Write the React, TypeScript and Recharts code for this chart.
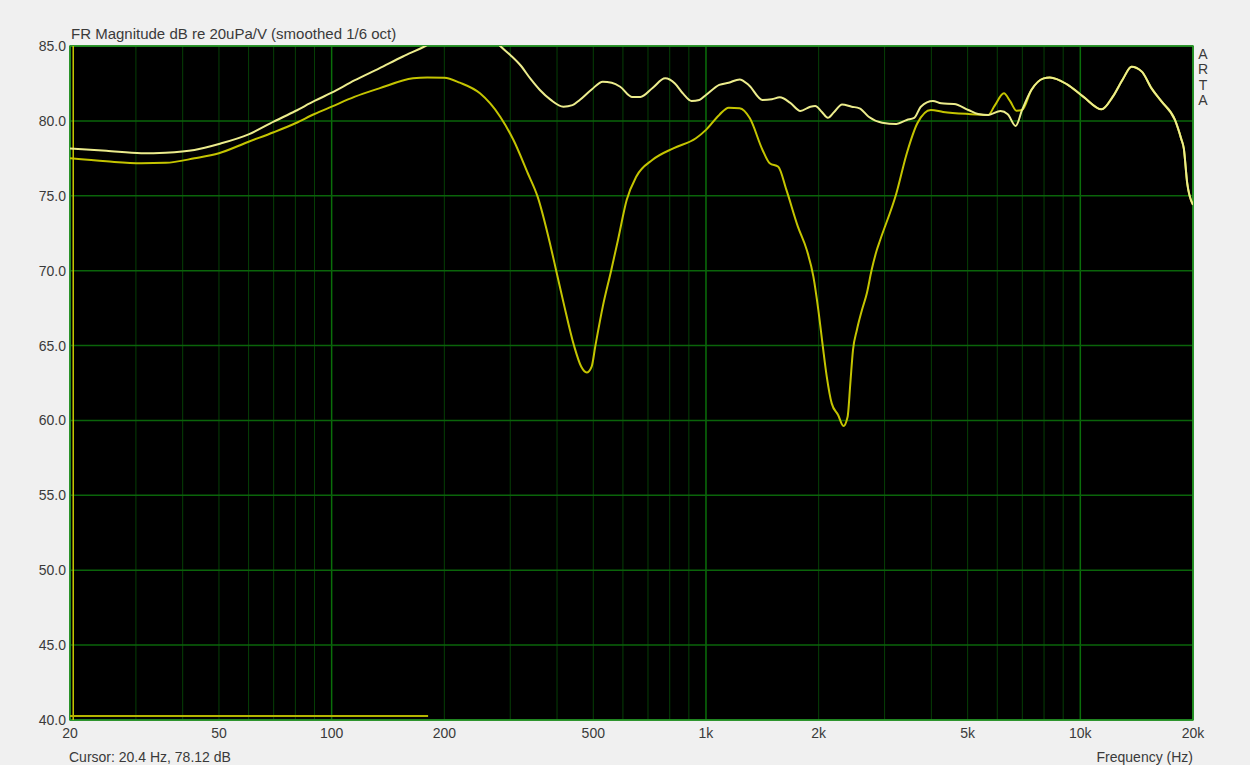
import React from "react";
import {
  ComposedChart,
  Line,
  XAxis,
  YAxis,
  CartesianGrid,
  ReferenceLine,
  ReferenceArea,
} from "recharts";

// curve A (brighter trace)
const freqA = [
  20, 25, 31, 36, 43, 50, 60, 70, 80, 90, 100, 115, 134, 155, 178, 200, 225,
  250, 270, 282, 300, 319, 340, 360, 385, 416, 440, 460, 495, 530, 560, 590,
  634, 668, 720, 778, 826, 870, 915, 960, 1000, 1085, 1150, 1230, 1300, 1416,
  1500, 1575, 1680, 1787, 1900, 1958, 2040, 2116, 2200, 2310, 2450, 2572,
  2720, 2955, 3226, 3440, 3600, 3750, 4040, 4250, 4600, 5020, 5330, 5680,
  6120, 6400, 6720, 6990,
];
const dbA = [
  78.15, 78.0, 77.84, 77.88, 78.06, 78.46, 79.1, 79.95, 80.66, 81.33, 81.88,
  82.7, 83.51, 84.3, 85.0, 85.7, 86.1, 86.0, 85.5, 85.0, 84.4, 83.73, 82.8,
  82.06, 81.4, 80.95, 81.05, 81.4, 82.1, 82.62, 82.55, 82.28, 81.6, 81.6,
  82.2, 82.84, 82.5, 81.8, 81.33, 81.4, 81.73, 82.4, 82.55, 82.77, 82.4,
  81.4, 81.45, 81.57, 81.2, 80.66, 80.95, 81.0, 80.6, 80.21, 80.6, 81.1,
  80.95, 80.84, 80.28, 79.88, 79.8, 80.06, 80.2, 80.95, 81.33, 81.17, 81.13,
  80.73, 80.46, 80.4, 80.66, 80.45, 79.66, 80.73,
];

// curve B (darker trace)
const freqB = [
  20, 25, 31, 36, 43, 50, 60, 70, 80, 90, 100, 115, 134, 165, 180, 200, 220,
  249, 282, 306, 334, 355, 384, 398, 416, 444, 464, 480, 495, 506, 530, 558,
  582, 614, 651, 720, 818, 940, 1000, 1085, 1150, 1230, 1310, 1416, 1480,
  1560, 1640, 1760, 1859, 1936, 1996, 2052, 2102, 2167, 2254, 2329, 2390,
  2430, 2470, 2530, 2610, 2690, 2770, 2860, 2920, 3226, 3440, 3670, 3990,
  4300, 5020, 5680, 5900, 6250, 6500, 6750, 6990,
];
const dbB = [
  77.5, 77.3, 77.17, 77.2, 77.5, 77.84, 78.61, 79.24, 79.84, 80.46, 80.95,
  81.6, 82.17, 82.84, 82.9, 82.88, 82.55, 81.84, 80.28, 78.72, 76.52, 74.94,
  71.7, 70.0, 67.9, 65.0, 63.6, 63.2, 63.6, 64.93, 67.6, 70.0, 72.05, 74.72,
  76.27, 77.4, 78.17, 78.84, 79.4, 80.4, 80.88, 80.84, 80.17, 78.06, 77.17,
  76.94, 75.39, 72.94, 71.38, 69.6, 67.37, 64.93, 62.93, 61.14, 60.36, 59.63,
  60.25, 62.48, 64.7, 66.04, 67.37, 68.49, 70.04, 71.38, 72.05, 75.17, 77.84,
  79.84, 80.73, 80.6, 80.46, 80.4, 81.0, 81.84, 81.3, 80.68, 80.73,
];

// above ~7 kHz both traces coincide
const freqTail = [
  7400, 7980, 8290, 9220, 10200, 11400, 12200, 13000, 13700, 14600, 15500,
  16500, 17900, 18600, 18900, 19300, 20000,
];
const dbTail = [
  82.06, 82.84, 82.9, 82.44, 81.6, 80.77, 81.6, 82.8, 83.62, 83.29, 82.17,
  81.28, 80.06, 78.8, 78.17, 75.85, 74.4,
];

// low trace along the bottom
const freqLow = [20, 181];
const dbLow = [40.27, 40.27];

const cursorFreq = 20.4;
const cursorDb = 78.12;

const xTicks = [20, 50, 100, 200, 500, 1000, 2000, 5000, 10000, 20000];
const xTickLabels = ["20", "50", "100", "200", "500", "1k", "2k", "5k", "10k", "20k"];
const yTicks = [40, 45, 50, 55, 60, 65, 70, 75, 80, 85];
const minorGrid = [
  30, 40, 50, 60, 70, 80, 90, 200, 300, 400, 500, 600, 700, 800, 900, 2000,
  3000, 4000, 5000, 6000, 7000, 8000, 9000,
];
const decadeGrid = [100, 1000, 10000];

const toPoints = (f: number[], d: number[]) => f.map((v, i) => ({ f: v, db: d[i] }));

const seriesA = toPoints(freqA.concat(freqTail), dbA.concat(dbTail));
const seriesB = toPoints(freqB.concat(freqTail), dbB.concat(dbTail));
const seriesLow = toPoints(freqLow, dbLow);

const font = "'Liberation Sans', Arial, sans-serif";
const textColor = "#3a3a3a";

const label: React.CSSProperties = {
  position: "absolute",
  fontFamily: font,
  fontSize: 14,
  color: textColor,
  lineHeight: "16px",
  whiteSpace: "nowrap",
};

export default function App() {
  return (
    <div
      style={{
        position: "absolute",
        left: 0,
        top: 0,
        width: 1250,
        height: 765,
        background: "#f0f0f0",
        overflow: "hidden",
      }}
    >
      <ComposedChart
        width={1250}
        height={765}
        margin={{ top: 46, right: 57, bottom: 0, left: 0 }}
      >
        <XAxis
          dataKey="f"
          type="number"
          scale="log"
          domain={[20, 20000]}
          allowDataOverflow
          ticks={xTicks}
          interval={0}
          tickFormatter={(v: number) => xTickLabels[xTicks.indexOf(v)] ?? ""}
          height={45}
          tickLine={false}
          axisLine={false}
          tickSize={0}
          tickMargin={8}
          tick={{ fill: textColor, fontSize: 14, fontFamily: font }}
        />
        <XAxis
          xAxisId="minor"
          dataKey="f"
          type="number"
          scale="log"
          domain={[20, 20000]}
          allowDataOverflow
          ticks={minorGrid}
          interval={0}
          hide
        />
        <XAxis
          xAxisId="decade"
          dataKey="f"
          type="number"
          scale="log"
          domain={[20, 20000]}
          allowDataOverflow
          ticks={decadeGrid}
          interval={0}
          hide
        />
        <YAxis
          type="number"
          domain={[40, 85]}
          allowDataOverflow
          ticks={yTicks}
          interval={0}
          width={70}
          tickLine={false}
          axisLine={false}
          tickSize={0}
          tickMargin={4}
          tickFormatter={(v: number) => v.toFixed(1)}
          tick={{ fill: textColor, fontSize: 14, fontFamily: font }}
        />
        <CartesianGrid
          xAxisId="minor"
          horizontal={false}
          stroke="#063f06"
          strokeWidth={1}
          fill="#000000"
          fillOpacity={1}
        />
        <CartesianGrid
          xAxisId="decade"
          horizontal={false}
          stroke="#0a6e0a"
          strokeWidth={1.5}
        />
        <CartesianGrid vertical={false} stroke="#0a640a" strokeWidth={1.5} />
        <ReferenceLine x={cursorFreq} stroke="#c8c800" strokeWidth={1.5} />
        <Line
          data={seriesLow}
          dataKey="db"
          type="linear"
          stroke="#b4b400"
          strokeWidth={2}
          dot={false}
          isAnimationActive={false}
        />
        <Line
          data={seriesB}
          dataKey="db"
          type="monotone"
          stroke="#c4c400"
          strokeWidth={2}
          dot={false}
          isAnimationActive={false}
        />
        <Line
          data={seriesA}
          dataKey="db"
          type="monotone"
          stroke="#ecec8c"
          strokeWidth={2}
          dot={false}
          isAnimationActive={false}
        />
        <ReferenceArea
          x1={20}
          x2={20000}
          y1={40}
          y2={85}
          fill="none"
          fillOpacity={0}
          stroke="#2a9a2a"
          strokeWidth={1.5}
        />
      </ComposedChart>

      <div style={{ ...label, left: 71, top: 26, fontSize: 15 }}>
        FR Magnitude dB re 20uPa/V (smoothed 1/6 oct)
      </div>
      <div style={{ ...label, left: 69, top: 749 }}>
        {`Cursor: ${cursorFreq} Hz, ${cursorDb.toFixed(2)} dB`}
      </div>
      <div style={{ ...label, right: 57, top: 749 }}>Frequency (Hz)</div>
      <div
        style={{
          ...label,
          left: 1196,
          top: 47,
          width: 14,
          textAlign: "center",
          lineHeight: "15.3px",
          whiteSpace: "normal",
        }}
      >
        {"ARTA".split("").map((c, i) => (
          <div key={i}>{c}</div>
        ))}
      </div>
    </div>
  );
}
